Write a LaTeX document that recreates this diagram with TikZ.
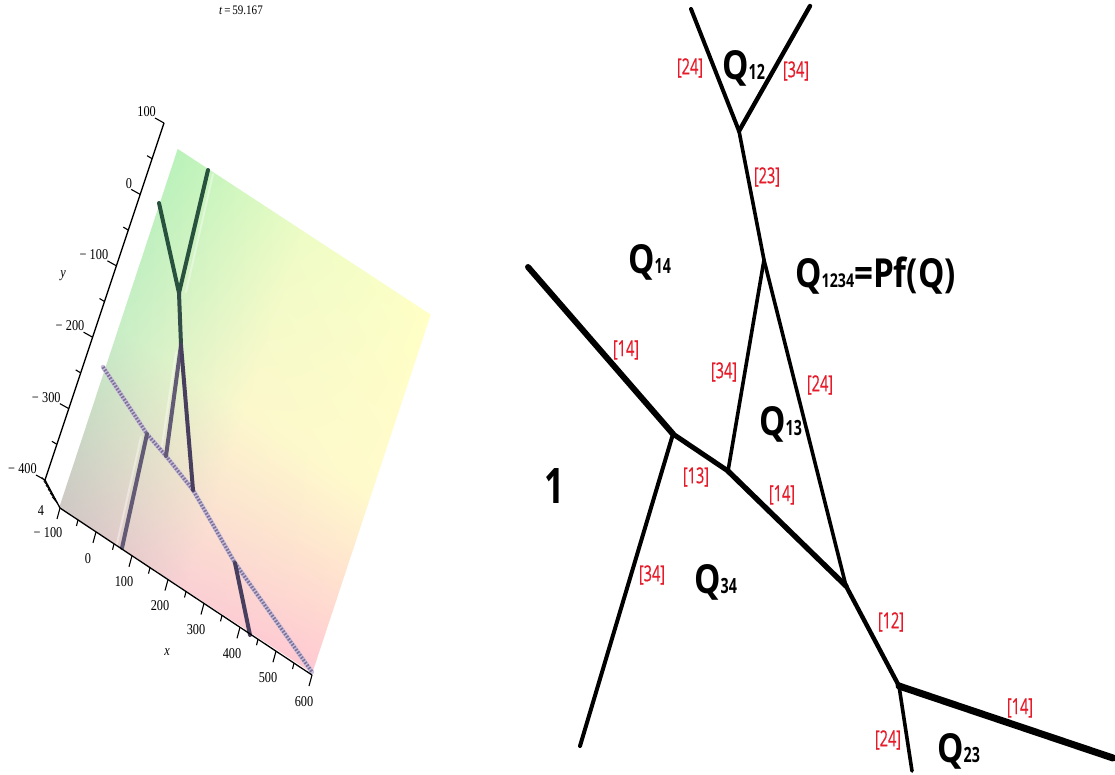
\documentclass[tikz,border=0pt]{standalone}
\usepackage{fontspec}
\usepackage{graphicx}
\usetikzlibrary{shadings}
\setmainfont{Open Sans}
\newfontfamily\axfont{Liberation Serif}
\newfontfamily\redfont{Open Sans}[FakeBold=0.6]
\definecolor{lblred}{RGB}{230,26,40}
\definecolor{cgA}{RGB}{186,242,186}
\definecolor{cgB}{RGB}{238,252,198}
\definecolor{cgC}{RGB}{255,255,198}
\definecolor{cgD}{RGB}{200,238,198}
\definecolor{cgE}{RGB}{252,248,204}
\definecolor{cgF}{RGB}{255,250,204}
\definecolor{cgG}{RGB}{206,200,196}
\definecolor{cgH}{RGB}{250,208,212}
\definecolor{cgI}{RGB}{255,200,210}
\definecolor{greenline}{RGB}{40,82,62}
\definecolor{purpline}{RGB}{72,62,94}
\definecolor{diagbase}{RGB}{200,190,218}
\definecolor{diagdots}{RGB}{126,114,152}
\newcommand{\patch}[6]{%
  \shade[transform canvas={cm={1.26,-0.825,0.59,1.785,(#1pt,#2pt)}},
    upper left=#3, upper right=#4, lower left=#5, lower right=#6]
    (-0.4,-0.4) rectangle (100.4,100.4);}
\newcommand{\Qsub}[1]{{\bfseries\fontsize{40}{40}\selectfont\scalebox{0.83}[1]{Q}\fontsize{21}{21}\selectfont\scalebox{0.68}[1]{#1}}}
\newcommand{\redlab}[1]{\scalebox{0.66}[1]{\redfont\fontsize{22}{22}\selectfont #1}}
\newcommand{\axlab}[1]{\scalebox{0.82}[1]{\axfont\fontsize{15}{15}\selectfont #1}}
\newcommand{\mn}{−\kern4pt}
\tikzset{
  seg/.style={line width=3.6pt, line cap=round, line join=round},
  qlab/.style={anchor=base west, inner sep=0pt},
  rlab/.style={text=lblred, inner sep=0pt},
  axl/.style={inner sep=0pt},
  axisline/.style={line width=1.3pt},
  tickmark/.style={line width=1.1pt},
  soliton/.style={line width=4pt, line cap=round, line join=round},
  glow/.style={white, opacity=0.4, line width=2pt, line cap=round},
}
\begin{document}
\begin{tikzpicture}[x=1pt,y=-1pt]
\useasboundingbox (0,0) rectangle (1115,774);
\fill[white] (0,0) rectangle (1115,774);

% ---------- left panel: surface ----------
\patch{178}{-150}{cgA}{cgB}{cgD}{cgE}
\patch{304}{-232.5}{cgB}{cgC}{cgE}{cgF}
\patch{119}{-328.5}{cgD}{cgE}{cgG}{cgH}
\patch{245}{-411}{cgE}{cgF}{cgH}{cgI}

% soliton lines
\coordinate (sA) at (159,203);
\coordinate (sB) at (208,170);
\coordinate (sC) at (179,293);
\coordinate (sD) at (181,345);
\coordinate (sE) at (166,456);
\coordinate (sF) at (193,490);
\coordinate (sG) at (147,434);
\coordinate (sH) at (122,548);
\coordinate (sI) at (235,563);
\coordinate (sJ) at (250,635);
\coordinate (sK) at (103,367);
\coordinate (sL) at (312,672);

\draw[glow] (213,174) -- (186,292);
\draw[glow] (141,437) -- (116,548);
\draw[glow] (176,352) -- (161,452);

\draw[line width=4.4pt, diagbase, line cap=round, line join=round] (sK) -- (sG) -- (sE) -- (sF) -- (sI) -- (sL);
\draw[line width=3.4pt, diagdots, dash pattern=on 1.6pt off 1.6pt, line join=round] (sK) -- (sG) -- (sE) -- (sF) -- (sI) -- (sL);

\draw[soliton, greenline] (sA) -- (sC) -- (sB);
\draw[soliton, greenline!70!purpline] (sC) -- (sD);
\draw[soliton, purpline!85] (sD) -- (sE);
\draw[soliton, purpline] (sD) -- (sF);
\draw[soliton, purpline!85] (sG) -- (sH);
\draw[soliton, purpline] (sI) -- (sJ);

% ---------- left panel: axes ----------
\draw[axisline] (164,123) -- (45,480);
\foreach \k/\lab in {0/100,1/0,2/{\mn100},3/{\mn200},4/{\mn300},5/{\mn400}} {
  \draw[tickmark] (164-23.8*\k,123+71.4*\k) -- ++(-9,-5);
  \node[axl, anchor=south east] (ylab\k) at (164-23.8*\k-8,123+71.4*\k-6) {\axlab{\lab}};
}
\foreach \k in {0,1,2,3,4} {
  \draw[tickmark] (164-23.8*\k-11.9,123+71.4*\k+35.7) -- ++(-5,-3);
}
\node[axl] (ylabel) at (63,276) {\axlab{\itshape y}};

% z hatch
\draw[axisline] (45,480) -- (60,508);
\foreach \f in {0.12,0.26,0.40,0.54,0.68,0.82} {
  \draw[line width=0.9pt] (45+15*\f,480+28*\f) -- ++(-5,-6);
}
\node[axl] (zlab) at (41,511) {\axlab{4}};

\draw[axisline] (60,508) -- (312,675);
\foreach \k in {0,...,7} {
  \draw[tickmark] (60+36*\k,508+23.857*\k) -- ++(-3,11);
}
\foreach \k in {0,...,6} {
  \draw[tickmark] (60+36*\k+18,508+23.857*\k+11.93) -- ++(-1.5,6);
}
\node[axl] (xl0) at (48,533) {\axlab{\mn100}};
\foreach \k/\lab in {1/0,2/100,3/200,4/300,5/400,6/500,7/600} {
  \node[axl, anchor=north] (xl\k) at (60+36*\k-8,508+23.857*\k+21) {\axlab{\lab}};
}
\node[axl] (xlabel) at (167,652) {\axlab{\itshape x}};
\node[axl] (tlabel) at (241,10) {\scalebox{0.85}[1]{\axfont\fontsize{13}{13}\selectfont\textit{t}\,=\,59.167}};

% ---------- right panel ----------
\coordinate (v1) at (691,9);
\coordinate (v2) at (810,6);
\coordinate (j1) at (739,131);
\coordinate (j2) at (764,260);
\coordinate (t1) at (528,267);
\coordinate (j3) at (673,434);
\coordinate (j4) at (728,471);
\coordinate (j5) at (846,586);
\coordinate (j6) at (899,686);
\coordinate (e1) at (1113,758);
\coordinate (e2) at (912,771);
\coordinate (e3) at (580,746);

\draw[seg, line width=4pt] (v1) -- (j1);
\draw[seg, line width=4.4pt] (v2) -- (j1);
\draw[seg] (j1) -- (j2);
\draw[seg] (j2) -- (j4);
\draw[seg] (j2) -- (j5);
\draw[seg, line width=6pt] (t1) -- (j3);
\draw[seg, line width=5pt] (j3) -- (j4);
\draw[seg, line width=5.4pt] (j4) -- (j5);
\draw[seg, line width=4.4pt] (j5) -- (j6);
\draw[seg, line width=7pt] (j6) -- (e1);
\draw[seg] (j6) -- (e2);
\draw[seg, line width=4pt] (j3) -- (e3);

\node[qlab] (q12) at (722,79) {\Qsub{12}};
\node[qlab] (q14) at (628,273) {\Qsub{14}};
\node[qlab] (q1234) at (795,287) {\bfseries\fontsize{40}{40}\selectfont\scalebox{0.83}[1]{Q}\fontsize{19}{19}\selectfont\scalebox{0.75}[1]{1234}\fontsize{40}{40}\selectfont\scalebox{0.83}[1]{=Pf(Q)}};
\node[qlab] (q13) at (759,435) {\Qsub{13}};
\node[qlab] (q34) at (694,593) {\Qsub{34}};
\node[qlab] (q23) at (937,762) {\Qsub{23}};
\node[qlab] (one) at (544,503) {\bfseries\fontsize{49}{49}\selectfont\scalebox{0.72}[1]{1}};

\node[rlab] (r1) at (690,68) {\redlab{[24]}};
\node[rlab] (r2) at (796,71) {\redlab{[34]}};
\node[rlab] (r3) at (767,177) {\redlab{[23]}};
\node[rlab] (r4) at (626,350) {\redlab{[14]}};
\node[rlab] (r5) at (724,372) {\redlab{[34]}};
\node[rlab] (r6) at (820,385) {\redlab{[24]}};
\node[rlab] (r7) at (696,477) {\redlab{[13]}};
\node[rlab] (r8) at (782,495) {\redlab{[14]}};
\node[rlab] (r9) at (652,575) {\redlab{[34]}};
\node[rlab] (r10) at (891,622) {\redlab{[12]}};
\node[rlab] (r11) at (1020,708) {\redlab{[14]}};
\node[rlab] (r12) at (888,740) {\redlab{[24]}};
\end{tikzpicture}
\end{document}
